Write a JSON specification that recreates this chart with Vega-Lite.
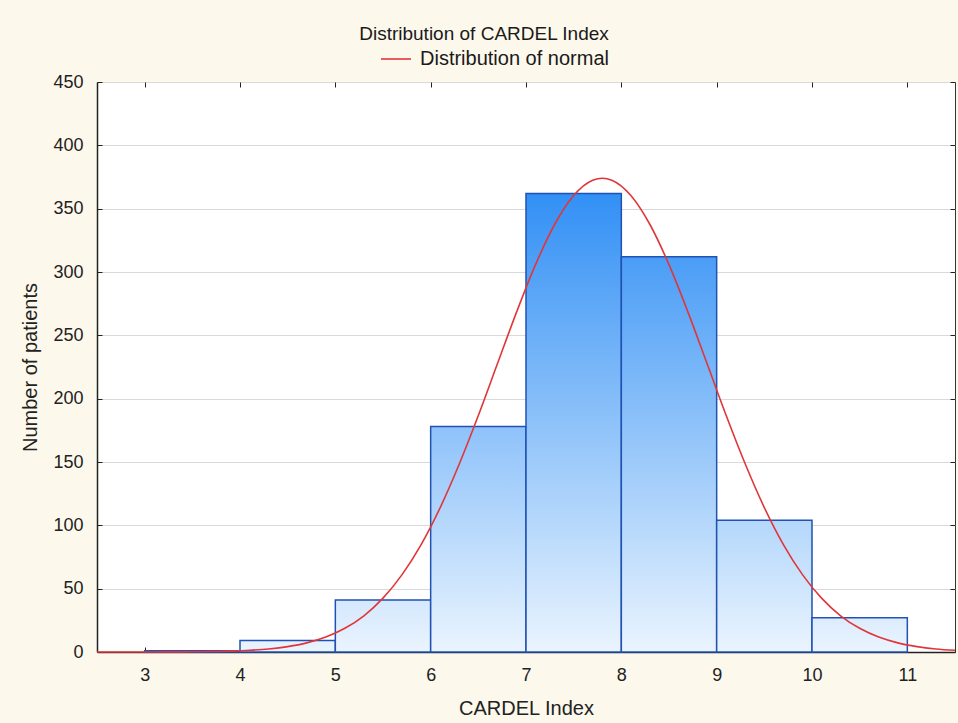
{
  "$schema": "https://vega.github.io/schema/vega-lite/v6.json",
  "width": 858,
  "height": 570,
  "autosize": "none",
  "padding": {"left": 97, "top": 82, "right": 3, "bottom": 71},
  "background": "#fcf8ec",
  "config": {
    "font": "Liberation Sans",
    "view": {"fill": "#ffffff", "stroke": "#333333", "strokeWidth": 1}
  },
  "title": {
    "text": "Distribution of CARDEL Index",
    "fontSize": 19,
    "fontWeight": "normal",
    "color": "#1a1a1a",
    "anchor": "middle",
    "dx": -42,
    "offset": -1
  },
  "datasets": {
    "bars": [
      {"lo": 3, "hi": 4, "count": 1},
      {"lo": 4, "hi": 5, "count": 9},
      {"lo": 5, "hi": 6, "count": 41},
      {"lo": 6, "hi": 7, "count": 178},
      {"lo": 7, "hi": 8, "count": 362},
      {"lo": 8, "hi": 9, "count": 312},
      {"lo": 9, "hi": 10, "count": 104},
      {"lo": 10, "hi": 11, "count": 27}
    ],
    "curve": [
      {"x": 2.5, "y": 0.004}, {"x": 2.7, "y": 0.009}, {"x": 2.9, "y": 0.019},
      {"x": 3.1, "y": 0.043}, {"x": 3.3, "y": 0.091}, {"x": 3.5, "y": 0.187},
      {"x": 3.7, "y": 0.374}, {"x": 3.9, "y": 0.722}, {"x": 4.1, "y": 1.35},
      {"x": 4.3, "y": 2.43}, {"x": 4.5, "y": 4.26}, {"x": 4.7, "y": 7.2},
      {"x": 4.9, "y": 11.8}, {"x": 5.1, "y": 18.7}, {"x": 5.3, "y": 28.6},
      {"x": 5.5, "y": 42.5}, {"x": 5.7, "y": 61.1}, {"x": 5.9, "y": 84.8},
      {"x": 6.1, "y": 114.0}, {"x": 6.3, "y": 148.4}, {"x": 6.5, "y": 186.7},
      {"x": 6.7, "y": 227.5}, {"x": 6.9, "y": 268.1}, {"x": 7.1, "y": 305.8},
      {"x": 7.3, "y": 337.5}, {"x": 7.5, "y": 360.4}, {"x": 7.7, "y": 372.5},
      {"x": 7.8, "y": 374.0}, {"x": 7.9, "y": 372.5}, {"x": 8.1, "y": 360.4},
      {"x": 8.3, "y": 337.5}, {"x": 8.5, "y": 305.8}, {"x": 8.7, "y": 268.1},
      {"x": 8.9, "y": 227.5}, {"x": 9.1, "y": 186.7}, {"x": 9.3, "y": 148.4},
      {"x": 9.5, "y": 114.0}, {"x": 9.7, "y": 84.8}, {"x": 9.9, "y": 61.1},
      {"x": 10.1, "y": 42.5}, {"x": 10.3, "y": 28.6}, {"x": 10.5, "y": 18.7},
      {"x": 10.7, "y": 11.8}, {"x": 10.9, "y": 7.2}, {"x": 11.1, "y": 4.26},
      {"x": 11.3, "y": 2.43}, {"x": 11.5, "y": 1.35}
    ]
  },
  "layer": [
    {
      "data": {"name": "bars"},
      "mark": {"type": "bar", "stroke": "#1f52b3", "strokeWidth": 1.5},
      "encoding": {
        "x": {
          "field": "lo", "type": "quantitative",
          "scale": {"domain": [2.5, 11.5], "nice": false, "zero": false},
          "axis": {
            "orient": "bottom", "title": "CARDEL Index", "values": [3,4,5,6,7,8,9,10,11],
            "grid": false, "domain": true, "domainColor": "#222222", "domainWidth": 1.5,
            "ticks": true, "tickSize": -5, "tickColor": "#222222",
            "labelFontSize": 18, "labelColor": "#222222", "labelPadding": 19,
            "titleFontSize": 20, "titleFontWeight": "normal", "titleColor": "#222222", "titlePadding": 14
          }
        },
        "x2": {"field": "hi"},
        "y": {
          "field": "count", "type": "quantitative",
          "scale": {"domain": [0, 450], "nice": false},
          "axis": {
            "orient": "left", "title": "Number of patients", "values": [0,50,100,150,200,250,300,350,400,450],
            "grid": true, "gridColor": "#d9d9d9", "gridWidth": 1,
            "domain": true, "domainColor": "#222222", "domainWidth": 1.5,
            "ticks": true, "tickSize": -5, "tickColor": "#222222",
            "labelFontSize": 18, "labelColor": "#222222", "labelPadding": 19,
            "titleFontSize": 20, "titleFontWeight": "normal", "titleColor": "#222222", "titlePadding": 12
          }
        },
        "y2": {"datum": 0},
        "fill": {
          "condition": [
            {"test": "datum.lo == 3", "value": {"gradient": "linear", "x1": 0, "y1": 0, "x2": 0, "y2": 1, "stops": [{"offset": 0, "color": "#e9f3fe"}, {"offset": 1, "color": "#eaf4fe"}]}},
            {"test": "datum.lo == 4", "value": {"gradient": "linear", "x1": 0, "y1": 0, "x2": 0, "y2": 1, "stops": [{"offset": 0, "color": "#e5f1fe"}, {"offset": 1, "color": "#eaf4fe"}]}},
            {"test": "datum.lo == 5", "value": {"gradient": "linear", "x1": 0, "y1": 0, "x2": 0, "y2": 1, "stops": [{"offset": 0, "color": "#d5e8fd"}, {"offset": 1, "color": "#eaf4fe"}]}},
            {"test": "datum.lo == 6", "value": {"gradient": "linear", "x1": 0, "y1": 0, "x2": 0, "y2": 1, "stops": [{"offset": 0, "color": "#8ec2fa"}, {"offset": 1, "color": "#eaf4fe"}]}},
            {"test": "datum.lo == 7", "value": {"gradient": "linear", "x1": 0, "y1": 0, "x2": 0, "y2": 1, "stops": [{"offset": 0, "color": "#3290f5"}, {"offset": 1, "color": "#eaf4fe"}]}},
            {"test": "datum.lo == 8", "value": {"gradient": "linear", "x1": 0, "y1": 0, "x2": 0, "y2": 1, "stops": [{"offset": 0, "color": "#4a9df6"}, {"offset": 1, "color": "#eaf4fe"}]}},
            {"test": "datum.lo == 9", "value": {"gradient": "linear", "x1": 0, "y1": 0, "x2": 0, "y2": 1, "stops": [{"offset": 0, "color": "#b4d7fb"}, {"offset": 1, "color": "#eaf4fe"}]}}
          ],
          "value": {"gradient": "linear", "x1": 0, "y1": 0, "x2": 0, "y2": 1, "stops": [{"offset": 0, "color": "#dcecfd"}, {"offset": 1, "color": "#eaf4fe"}]}
        }
      }
    },
    {
      "data": {"name": "curve"},
      "mark": {"type": "line", "strokeWidth": 1.6, "interpolate": "monotone"},
      "encoding": {
        "x": {
          "field": "x", "type": "quantitative",
          "axis": {"orient": "top", "title": null, "labels": false, "domain": false, "grid": false,
                   "values": [3,4,5,6,7,8,9,10,11], "ticks": true, "tickSize": -5, "tickColor": "#222222"}
        },
        "y": {
          "field": "y", "type": "quantitative",
          "axis": {"orient": "right", "title": null, "labels": false, "domain": false, "grid": false,
                   "values": [0,50,100,150,200,250,300,350,400,450], "ticks": true, "tickSize": -5, "tickColor": "#222222"}
        },
        "color": {
          "datum": "Distribution of normal", "type": "nominal",
          "scale": {"range": ["#e0363a"]},
          "legend": {
            "title": null, "orient": "none", "legendX": 283, "legendY": -39,
            "symbolType": "stroke", "symbolSize": 900, "symbolStrokeWidth": 1.6,
            "labelFontSize": 20, "labelColor": "#1a1a1a", "labelOffset": 8, "labelLimit": 400
          }
        }
      }
    }
  ],
  "resolve": {"axis": {"x": "independent", "y": "independent"}}
}
